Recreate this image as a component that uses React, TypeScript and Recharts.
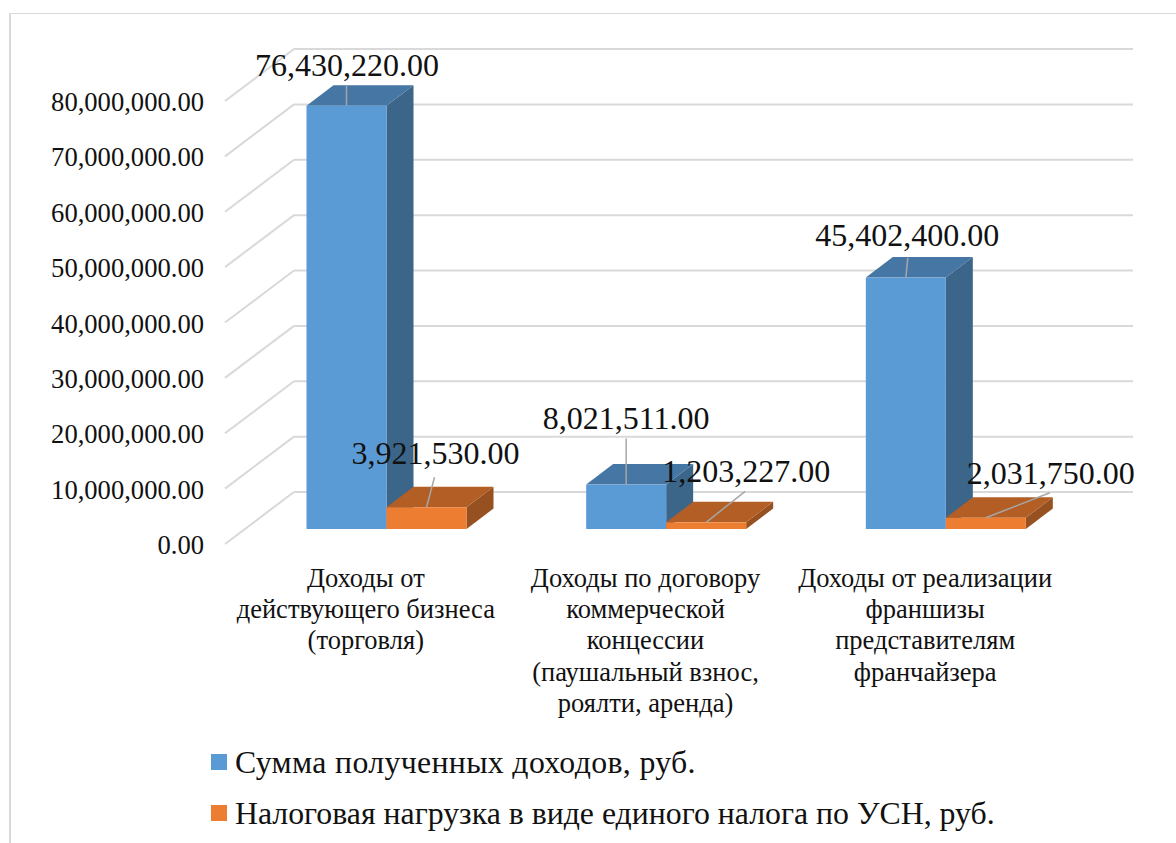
/**
 * Income and tax burden by income type - pseudo 3D bar chart
 */

import React from 'react'
import { BarChart, Bar, XAxis, YAxis, CartesianGrid, Legend, LabelList } from 'recharts'

const categories = [
  'Доходы от действующего бизнеса (торговля)',
  'Доходы по договору коммерческой концессии (паушальный взнос, роялти, аренда)',
  'Доходы от реализации франшизы представителям франчайзера',
]
const categoryLines = [
  ['Доходы от', 'действующего бизнеса', '(торговля)'],
  ['Доходы по договору', 'коммерческой', 'концессии', '(паушальный взнос,', 'роялти, аренда)'],
  ['Доходы от реализации', 'франшизы', 'представителям', 'франчайзера'],
]
const incomeValues = [76430220, 8021511, 45402400]
const taxValues = [3921530, 1203227, 2031750]
const yTicks = [0, 10000000, 20000000, 30000000, 40000000, 50000000, 60000000, 70000000, 80000000]

const incomeName = 'Сумма полученных доходов, руб.'
const taxName = 'Налоговая нагрузка в виде единого налога по УСН, руб.'

const tableData = categories.map((name, i) => ({
  name,
  income: incomeValues[i],
  tax: taxValues[i],
}))

const FONT = '"Liberation Serif", serif'
const TEXT = '#111111'
const GRID = '#d9d9d9'

// floor depth of the fake 3D plot, and where the bars stand inside it
const SIDE_DX = 69
const SIDE_DY = 52
const FRONT_DX = -47.5
const FRONT_DY = 37
const DEPTH_DX = 27
const DEPTH_DY = 20.5

const incomeFaces = { front: '#5b9bd5', top: '#4676a3', side: '#3b6589' }
const taxFaces = { front: '#ed7d31', top: '#b25e25', side: '#97501f' }

// label centre and leader start, relative to the top centre of the front face
const incomeLabelPos = [
  { dx: 0.5, dy: -41, lx: 0, ly: -20 },
  { dx: 0, dy: -67, lx: 0, ly: -46 },
  { dx: 1.5, dy: -43, lx: 2, ly: -20 },
]
const taxLabelPos = [
  { dx: 9, dy: -54, lx: 8, ly: -30 },
  { dx: 40, dy: -51, lx: 39, ly: -31 },
  { dx: 65, dy: -45, lx: 64, ly: -25 },
]

// the first legend row is set a little wider in the source
const legendSpacing = [0.34, 0]

function formatValue(v: number) {
  return v.toLocaleString('en-US', { minimumFractionDigits: 2, maximumFractionDigits: 2 })
}

function makeBarShape(faces: typeof incomeFaces) {
  return function BarShape(props: any) {
    const x = props.x + FRONT_DX
    const y = props.y + FRONT_DY
    const w = props.width
    const h = props.height
    const top = `${x},${y} ${x + w},${y} ${x + w + DEPTH_DX},${y - DEPTH_DY} ${x + DEPTH_DX},${y - DEPTH_DY}`
    const side = `${x + w},${y} ${x + w + DEPTH_DX},${y - DEPTH_DY} ${x + w + DEPTH_DX},${y + h - DEPTH_DY} ${x + w},${y + h}`
    return (
      <g>
        <polygon points={side} fill={faces.side} />
        <polygon points={top} fill={faces.top} />
        <rect x={x} y={y} width={w} height={h} fill={faces.front} />
      </g>
    )
  }
}

function makeLabel(positions: typeof incomeLabelPos) {
  return function BarLabel(props: any) {
    const box = props.viewBox ?? props
    const pos = positions[props.index]
    const cx = box.x + box.width / 2 + FRONT_DX
    const cy = box.y + FRONT_DY
    return (
      <g>
        <line x1={cx + pos.lx} y1={cy + pos.ly} x2={cx} y2={cy} stroke="#a6a6a6" strokeWidth={1.5} />
        <text
          x={cx + pos.dx}
          y={cy + pos.dy}
          textAnchor="middle"
          dominantBaseline="central"
          fontFamily={FONT}
          fontSize={32}
          fill={TEXT}
        >
          {formatValue(props.value)}
        </text>
      </g>
    )
  }
}

function YTick({ x, y, payload }: any) {
  const backX = x + 8
  return (
    <g>
      <line x1={backX} y1={y} x2={backX - SIDE_DX} y2={y + SIDE_DY} stroke={GRID} strokeWidth={2} />
      <text
        x={204}
        y={y + SIDE_DY + 1}
        textAnchor="end"
        dominantBaseline="central"
        fontFamily={FONT}
        fontSize={26.6}
        fill={TEXT}
      >
        {formatValue(payload.value)}
      </text>
    </g>
  )
}

function XTick({ x, index }: any) {
  return (
    <g>
      {categoryLines[index].map((line, i) => (
        <text
          key={line}
          x={x - SIDE_DX + 1}
          y={578 + i * 31.2}
          textAnchor="middle"
          dominantBaseline="central"
          fontFamily={FONT}
          fontSize={26.5}
          fill={TEXT}
        >
          {line}
        </text>
      ))}
    </g>
  )
}

function LegendBox({ payload }: any) {
  return (
    <div style={{ fontFamily: FONT, fontSize: 31.8, color: TEXT }}>
      {payload.map((entry: any, i: number) => (
        <div key={entry.value} style={{ display: 'flex', alignItems: 'center', height: 51 }}>
          <span style={{ width: 16, height: 16, background: entry.color, marginRight: 8 }} />
          <span style={{ whiteSpace: 'nowrap', position: 'relative', top: 1.5, letterSpacing: legendSpacing[i] }}>
            {entry.value}
          </span>
        </div>
      ))}
    </div>
  )
}

export default function App() {
  return (
    <div style={{ position: 'absolute', left: 0, top: 0, width: 1176, height: 843, overflow: 'hidden', background: '#fff' }}>
      <div
        style={{
          position: 'absolute',
          left: 9,
          top: 13,
          right: 0,
          bottom: 0,
          borderLeft: `2px solid ${GRID}`,
          borderTop: `1.5px solid ${GRID}`,
        }}
      />
      <div style={{ position: 'absolute', left: 0, top: 0 }}>
        <BarChart
          width={1176}
          height={843}
          data={tableData}
          barSize={80}
          barGap={0}
          margin={{ top: 49, right: 43, bottom: 151, left: 0 }}
        >
          <CartesianGrid vertical={false} stroke={GRID} strokeWidth={2} />
          <XAxis dataKey="name" height={200} axisLine={false} tickLine={false} tick={<XTick />} interval={0} />
          <YAxis
            width={294}
            domain={[0, 80000000]}
            ticks={yTicks}
            axisLine={false}
            tickLine={false}
            tick={<YTick />}
            interval={0}
          />
          <Legend
            layout="vertical"
            align="center"
            verticalAlign="middle"
            itemSorter={null}
            wrapperStyle={{ left: 211, top: 736, width: 900 }}
            content={<LegendBox />}
          />
          <Bar dataKey="income" name={incomeName} fill={incomeFaces.front} isAnimationActive={false} shape={makeBarShape(incomeFaces)}>
            <LabelList dataKey="income" content={makeLabel(incomeLabelPos)} />
          </Bar>
          <Bar dataKey="tax" name={taxName} fill={taxFaces.front} isAnimationActive={false} shape={makeBarShape(taxFaces)}>
            <LabelList dataKey="tax" content={makeLabel(taxLabelPos)} />
          </Bar>
        </BarChart>
      </div>
    </div>
  )
}
